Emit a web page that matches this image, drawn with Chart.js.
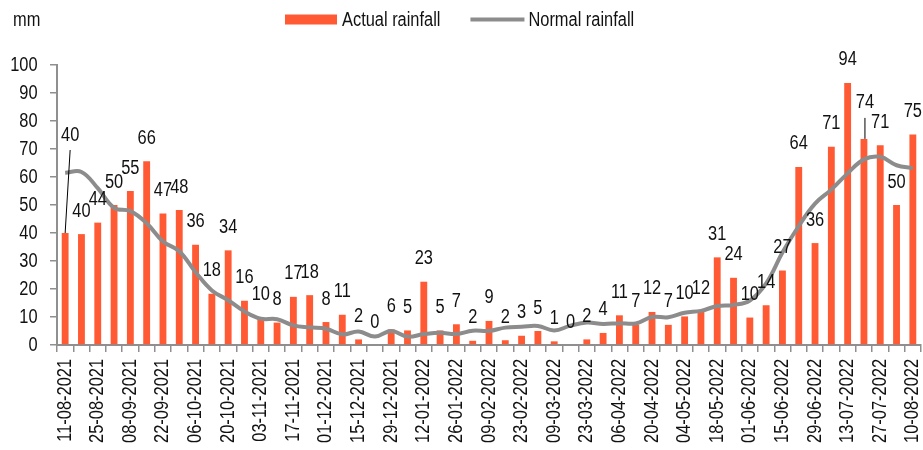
<!DOCTYPE html>
<html><head><meta charset="utf-8">
<script src="https://cdn.jsdelivr.net/npm/chart.js@4.4.1/dist/chart.umd.min.js"></script>
<style>html,body{margin:0;padding:0;background:#fff;}#wrap{width:923px;height:450px;position:relative;}</style>
</head><body><div id="wrap"><canvas id="c" width="923" height="450"></canvas></div>
<script>
const weeks = [
 '11-08-2021','18-08-2021','25-08-2021','01-09-2021','08-09-2021','15-09-2021','22-09-2021','29-09-2021',
 '06-10-2021','13-10-2021','20-10-2021','27-10-2021','03-11-2021','10-11-2021','17-11-2021','24-11-2021',
 '01-12-2021','08-12-2021','15-12-2021','22-12-2021','29-12-2021',
 '05-01-2022','12-01-2022','19-01-2022','26-01-2022','02-02-2022','09-02-2022','16-02-2022','23-02-2022',
 '02-03-2022','09-03-2022','16-03-2022','23-03-2022','30-03-2022','06-04-2022','13-04-2022','20-04-2022',
 '27-04-2022','04-05-2022','11-05-2022','18-05-2022','25-05-2022','01-06-2022','08-06-2022','15-06-2022',
 '22-06-2022','29-06-2022','06-07-2022','13-07-2022','20-07-2022','27-07-2022','03-08-2022','10-08-2022'
];
const actualRainfall = [40,39.6,43.7,50,55,65.6,47,48.2,35.8,18.3,33.8,15.8,9.8,8,17.2,17.8,8.2,10.8,2,0,5.6,5.2,22.6,5.2,7.4,1.5,8.6,1.7,3.3,5,1.3,0,2,4.3,10.6,7.3,11.8,7.2,10.2,12,31.3,24,9.8,14.2,26.6,63.6,36.4,70.8,93.6,73.6,71.3,50,75.2];
const normalRainfall = [61.5,61.8,56,49,47.8,43.5,37,33.5,26,19.5,16,12,9.4,9.2,7,6.3,5.8,3.8,4.8,3,5,3,3.9,4.4,3.9,5.1,5,6.2,6.5,6.8,5.2,6.9,8,7.5,7.8,7.7,10,9.9,11.5,12.2,13.9,14.3,15.9,22,33,42.5,50.5,55.5,61.3,66.3,67.2,64.2,63.2];
const yTicks = [0,10,20,30,40,50,60,70,80,90,100];
const seriesNames = ['Actual rainfall','Normal rainfall'];
const unitLabel = 'mm';

// Narrow rendering of Liberation Sans (Arial metrics) to emulate Arial Narrow
const NARROW = 0.82;
const P = CanvasRenderingContext2D.prototype;
const _fill = P.fillText, _measure = P.measureText;
P.fillText = function(t,x,y,mw){
  if (this.font.indexOf('Liberation Sans')<0) return _fill.call(this,t,x,y,mw);
  this.save(); this.translate(x,y); this.scale(NARROW,1); _fill.call(this,t,0,0); this.restore();
};
P.measureText = function(t){
  const m=_measure.call(this,t);
  if (this.font.indexOf('Liberation Sans')<0) return m;
  return {width:m.width*NARROW,
    actualBoundingBoxAscent:m.actualBoundingBoxAscent, actualBoundingBoxDescent:m.actualBoundingBoxDescent,
    actualBoundingBoxLeft:m.actualBoundingBoxLeft*NARROW, actualBoundingBoxRight:m.actualBoundingBoxRight*NARROW,
    fontBoundingBoxAscent:m.fontBoundingBoxAscent, fontBoundingBoxDescent:m.fontBoundingBoxDescent};
};

const FAM='"Liberation Sans", Arial, sans-serif', FS=20;
const BAR_COLOR='#ff5a33', LINE_COLOR='#8c8c8c', AXIS_COLOR='#8f8f8f', TEXT='#111';
Chart.defaults.font.family = FAM;
Chart.defaults.font.size = FS;
Chart.defaults.color = TEXT;

const special = {0:{dx:5, dy:98}, 49:{dx:1, dy:36}};
const barLabels = {
  id:'barLabels',
  afterDatasetsDraw(chart){
    const ctx=chart.ctx; const meta=chart.getDatasetMeta(0);
    ctx.save();
    ctx.font = FS+'px '+FAM; ctx.fillStyle=TEXT; ctx.textAlign='center'; ctx.textBaseline='middle';
    meta.data.forEach((bar,i)=>{
      const v=Math.round(actualRainfall[i]);
      const sp=special[i];
      let x=bar.x, y=bar.y-23;
      if (sp){
        x=bar.x+sp.dx; y=bar.y-sp.dy;
        ctx.strokeStyle='#000'; ctx.lineWidth=1;
        ctx.beginPath(); ctx.moveTo(x, y+15); ctx.lineTo(i===0?bar.x:x, bar.y); ctx.stroke();
      }
      ctx.fillText(String(v), x, y);
    });
    ctx.restore();
  }
};
const legendAndUnit = {
  id:'legendAndUnit',
  afterDraw(chart){
    const ctx=chart.ctx; ctx.save();
    ctx.font=FS+'px '+FAM; ctx.fillStyle=TEXT; ctx.textAlign='left'; ctx.textBaseline='middle';
    ctx.fillText(unitLabel, 13, 20);
    const cy=19.5;
    let x=285;
    ctx.fillStyle=BAR_COLOR; ctx.fillRect(x, cy-5, 52, 10); x+=57;
    ctx.fillStyle=TEXT; ctx.fillText(seriesNames[0], x, cy+0.5); x+=ctx.measureText(seriesNames[0]).width+30;
    ctx.strokeStyle=LINE_COLOR; ctx.lineWidth=4; ctx.beginPath(); ctx.moveTo(x,cy); ctx.lineTo(x+54,cy); ctx.stroke(); x+=58;
    ctx.fillStyle=TEXT; ctx.fillText(seriesNames[1], x, cy+0.5);
    ctx.restore();
  }
};

new Chart(document.getElementById('c'), {
  type:'bar',
  data:{
    labels: weeks,
    datasets:[
      {type:'bar', label:seriesNames[0], data:actualRainfall, backgroundColor:BAR_COLOR, borderWidth:0,
       categoryPercentage:1, barPercentage:0.42, order:2},
      {type:'line', label:seriesNames[1], data:normalRainfall, borderColor:LINE_COLOR, backgroundColor:LINE_COLOR,
       borderWidth:4, pointRadius:0, tension:0.4, fill:false, order:1}
    ]
  },
  options:{
    responsive:false, animation:false, devicePixelRatio:1,
    layout:{padding:{left:10,right:2,top:65,bottom:0}},
    plugins:{ tooltip:{enabled:false}, legend:{display:false} },
    scales:{
      x:{
        offset:true,
        grid:{offset:true, drawOnChartArea:false, drawTicks:true, tickLength:7, color:AXIS_COLOR, lineWidth:1.5},
        border:{display:true, color:AXIS_COLOR, width:2},
        ticks:{autoSkip:false, minRotation:90, maxRotation:90, padding:7, color:TEXT,
          callback:(v,i)=> i%2===0 ? weeks[i] : ''},
        afterFit:(s)=>{ s.height = 105; s.paddingLeft=0; s.paddingRight=0; }
      },
      y:{
        min:0, max:100,
        afterBuildTicks:(s)=>{ s.ticks = yTicks.map(v=>({value:v})); },
        grid:{drawOnChartArea:false, drawTicks:true, tickLength:7, color:AXIS_COLOR, lineWidth:1.5},
        border:{display:true, color:AXIS_COLOR, width:2},
        ticks:{padding:12.5, color:TEXT},
        afterFit:(s)=>{ s.width = 47; s.paddingTop=0; s.paddingBottom=0; }
      }
    }
  },
  plugins:[barLabels, legendAndUnit]
});
</script></body></html>
